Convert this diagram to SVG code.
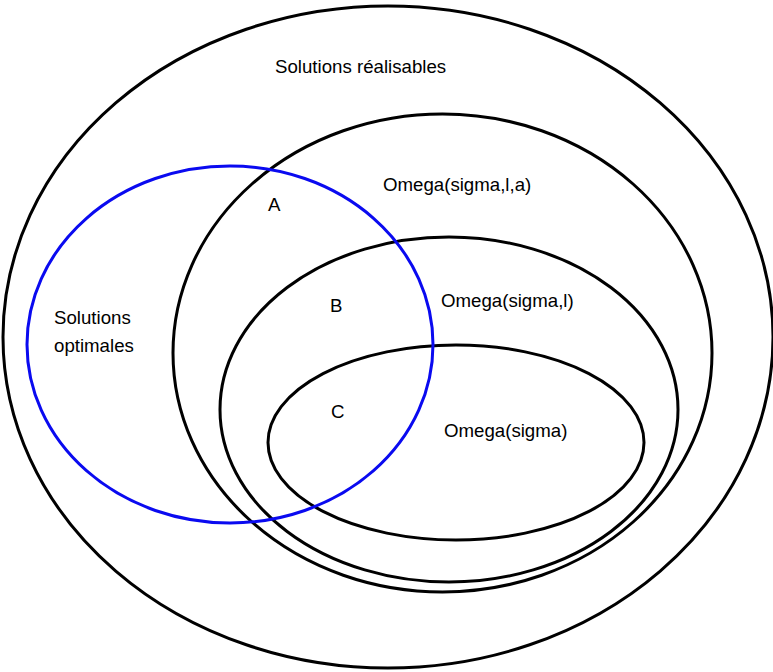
<svg xmlns="http://www.w3.org/2000/svg" width="773" height="672" viewBox="0 0 773 672">
  <style>
    .set { fill: none; stroke: #000; stroke-width: 3; }
    .opt { fill: none; stroke: #0a0af0; stroke-width: 3; }
    .lbl { font-family: "Liberation Sans", Arial, sans-serif; font-size: 18.67px; fill: #000; }
  </style>
  <rect x="0" y="0" width="773" height="672" fill="#fff"/>

  <!-- feasible solutions -->
  <g id="realisables">
    <ellipse class="set" cx="388" cy="337" rx="385" ry="331"/>
    <text class="lbl" x="275" y="73">Solutions réalisables</text>
  </g>

  <!-- Omega(sigma,l,a) -->
  <g id="omega-sla">
    <ellipse class="set" cx="442.5" cy="353" rx="269.5" ry="239"/>
    <text class="lbl" x="383" y="191">Omega(sigma,l,a)</text>
  </g>

  <!-- Omega(sigma,l) -->
  <g id="omega-sl">
    <ellipse class="set" cx="449" cy="409.5" rx="229" ry="172.5"/>
    <text class="lbl" x="441" y="307">Omega(sigma,l)</text>
  </g>

  <!-- Omega(sigma) -->
  <g id="omega-s">
    <ellipse class="set" cx="456" cy="442.5" rx="188" ry="97.5"/>
    <text class="lbl" x="444" y="437">Omega(sigma)</text>
  </g>

  <!-- optimal solutions -->
  <g id="optimales">
    <ellipse class="opt" cx="230" cy="344.5" rx="203" ry="178.5"/>
    <text class="lbl" x="54" y="324">Solutions</text>
    <text class="lbl" x="54" y="352">optimales</text>
  </g>

  <!-- region labels -->
  <g id="regions">
    <text class="lbl" x="268" y="211">A</text>
    <text class="lbl" x="330" y="312">B</text>
    <text class="lbl" x="331" y="418">C</text>
  </g>
</svg>
